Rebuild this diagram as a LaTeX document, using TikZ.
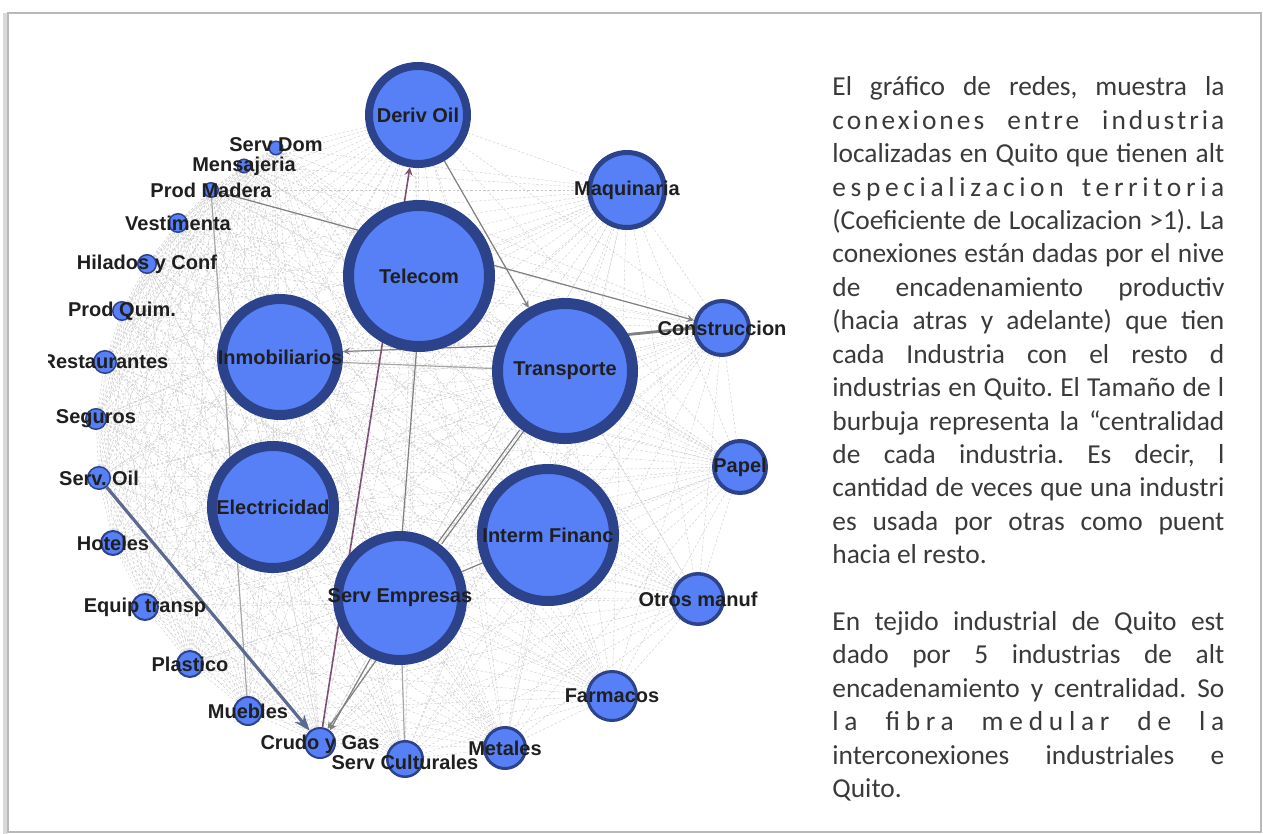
\documentclass[tikz,border=0pt]{standalone}
\usepackage{fontspec}
\newfontfamily\lblfont{Liberation Sans}
\newfontfamily\txtfont{Carlito}
\usetikzlibrary{arrows.meta,backgrounds}
\definecolor{indfill}{RGB}{88,128,246}
\definecolor{indring}{RGB}{44,66,138}
\definecolor{txtgray}{RGB}{58,58,58}
\definecolor{linkpurple}{RGB}{125,80,115}
\definecolor{linkblue}{RGB}{92,106,145}
\tikzset{
  ind/.style={circle,inner sep=0pt,fill=indfill,draw=indring,label={[lbl]center:#1}},
  lbl/.style={font=\lblfont\bfseries\fontsize{10}{12}\selectfont,text=black!88,inner sep=0pt},
  meshedge/.style={black!22,line width=0.2pt,dash pattern=on 1.2pt off 1pt},
  link/.style={black!50,line width=0.6pt},
  txtline/.style={anchor=base west,inner sep=0pt,text=txtgray,font=\txtfont\fontsize{13.7}{16.7}\selectfont},
}
\def\indlist{derivoil,telecom,transporte,inmob,electr,servemp,interm,maquinaria,construccion,papel,otros,farmacos,metales,servcult,crudo,muebles,plastico,equip,hoteles,servoil,seguros,restaurantes,prodquim,hilados,vestimenta,prodmadera,mensajeria,servdom}
\frenchspacing
\begin{document}
\begin{tikzpicture}[x=0.5pt,y=-0.5pt,>=stealth]
  \useasboundingbox (0,0) rectangle (1263,834);
  \draw[black!15,line width=2pt] (5,13) -- (5,834);
  \draw[black!28,line width=1pt] (8,13) rectangle (1261,832);

  \begin{scope}
    \clip (48,20) rectangle (810,825);
    \node[ind={Deriv Oil},minimum size=49pt,line width=4pt] (derivoil) at (418,115) {};
    \node[ind=Telecom,minimum size=70.5pt,line width=5.5pt] (telecom) at (419,276) {};
    \node[ind=Transporte,minimum size=67.5pt,line width=5.5pt] (transporte) at (565,371) {};
    \node[ind=Inmobiliarios,minimum size=58pt,line width=5pt] (inmob) at (280,357) {};
    \node[ind=Electricidad,minimum size=61pt,line width=5pt] (electr) at (273,507) {};
    \node[ind={Serv Empresas},minimum size=62pt,line width=5pt] (servemp) at (400,598) {};
    \node[ind={Interm Financ},minimum size=66pt,line width=5pt] (interm) at (548,535) {};
    \node[ind=Maquinaria,minimum size=37.5pt,line width=2.5pt] (maquinaria) at (627,190) {};
    \node[ind=Construccion,minimum size=27pt,line width=2pt] (construccion) at (722,328) {};
    \node[ind=Papel,minimum size=26pt,line width=2pt] (papel) at (740,467) {};
    \node[ind={Otros manuf},minimum size=25.25pt,line width=1.75pt] (otros) at (698,599) {};
    \node[ind=Farmacos,minimum size=24.5pt,line width=1.5pt] (farmacos) at (612,696) {};
    \node[ind=Metales,minimum size=20.5pt,line width=1.5pt] (metales) at (505,748) {};
    \node[ind=,minimum size=17.75pt,line width=1.25pt,label={[lbl,yshift=-1.5pt]center:Serv Culturales}] (servcult) at (405,759) {};
    \node[ind=,minimum size=15pt,line width=1pt,label={[lbl,yshift=-0.5pt]center:Crudo y Gas}] (crudo) at (320,743) {};
    \node[ind=Muebles,minimum size=14pt,line width=1pt] (muebles) at (248,711) {};
    \node[ind=Plastico,minimum size=13pt,line width=1pt] (plastico) at (190,664) {};
    \node[ind={Equip transp},minimum size=13pt,line width=1pt] (equip) at (145,607) {};
    \node[ind=Hoteles,minimum size=12pt,line width=1pt] (hoteles) at (113,543) {};
    \node[ind={Serv. Oil},minimum size=11.25pt,line width=0.75pt] (servoil) at (99,478) {};
    \node[ind=Seguros,minimum size=10.25pt,line width=0.75pt] (seguros) at (96,419) {};
    \node[ind=Restaurantes,minimum size=11.25pt,line width=0.75pt] (restaurantes) at (105,362) {};
    \node[ind={Prod Quim.},minimum size=9.25pt,line width=0.75pt] (prodquim) at (122,311) {};
    \node[ind={Hilados y Conf},minimum size=9.25pt,line width=0.75pt] (hilados) at (147,264) {};
    \node[ind=Vestimenta,minimum size=9.25pt,line width=0.75pt] (vestimenta) at (178,223) {};
    \node[ind={Prod Madera},minimum size=7.25pt,line width=0.75pt] (prodmadera) at (211,190) {};
    \node[ind=Mensajeria,minimum size=6.75pt,line width=0.75pt] (mensajeria) at (244,166) {};
    \node[ind=,minimum size=6.75pt,line width=0.75pt,label={[lbl,yshift=1.5pt]center:Serv Dom}] (servdom) at (276,148) {};
  \end{scope}

  \begin{pgfonlayer}{background}
    \foreach \a [count=\i] in \indlist {
      \foreach \b [count=\j] in \indlist {
        \ifnum\j>\i \draw[meshedge] (\a) -- (\b); \fi
      }
    }
    \draw[link] (prodmadera) -- (telecom.143);
    \draw[link,black!35] (prodmadera) -- (muebles);
    \draw[link,->] (derivoil) -- (transporte);
    \draw[link,->] (telecom.8) -- (construccion);
    \draw[link,line width=1.4pt] (transporte.30) -- (construccion.west);
    \draw[link,->] (transporte.160) -- (inmob.5);
    \draw[link,black!35] (inmob.355) -- (transporte.178);
    \draw[link] (telecom.268) -- (servemp.88);
    \draw[link,transform canvas={xshift=-1.2pt}] (servemp) -- (transporte);
    \draw[link,transform canvas={xshift=1.2pt}] (servemp) -- (transporte);
    \draw[link] (servemp) -- (interm);
    \draw[link,black!35] (servemp) -- (servcult);
    \draw[link,->] (servemp.244) -- (crudo.52);
    \draw[link,->] (servemp.249) -- (crudo.62);
    \draw[linkpurple,line width=0.8pt,->] (crudo) -- (derivoil);
    \draw[linkblue,line width=1.6pt,-{Stealth[length=8pt,width=6pt]}] (servoil) -- (crudo);
  \end{pgfonlayer}

  \begin{scope}
    \clip (820,40) rectangle (1229,820);
    \foreach \n/\s/\t in {
      1/0/{El gráfico de redes, muestra la},
      2/11/{conexiones entre industria},
      3/0/{localizadas en Quito que tienen alt},
      4/17/{especializacion territoria},
      5/0/{(Coeficiente de Localizacion >1). La},
      6/0/{conexiones están dadas por el nive},
      7/0/{de encadenamiento productiv},
      8/0/{(hacia atras y adelante) que tien},
      9/0/{cada Industria con el resto d},
      10/0/{industrias en Quito. El Tamaño de l},
      11/0/{burbuja representa la “centralidad},
      12/0/{de cada industria. Es decir, l},
      13/0/{cantidad de veces que una industri},
      14/0/{es usada por otras como puent},
      17/0/{En tejido industrial de Quito est},
      18/0/{dado por 5 industrias de alt},
      19/0/{encadenamiento y centralidad. So},
      20/21/{la fibra medular de la},
      21/0/{interconexiones industriales e}}
      \node[txtline] (t\n) at (832,{96+(\n-1)*33.4}) {\addfontfeature{LetterSpace=\s}\hbox to 196pt{\t}};
    \node[txtline] (t15) at (832,{96+14*33.4}) {hacia el resto.};
    \node[txtline] (t22) at (832,{96+21*33.4}) {Quito.};
  \end{scope}
\end{tikzpicture}
\end{document}
